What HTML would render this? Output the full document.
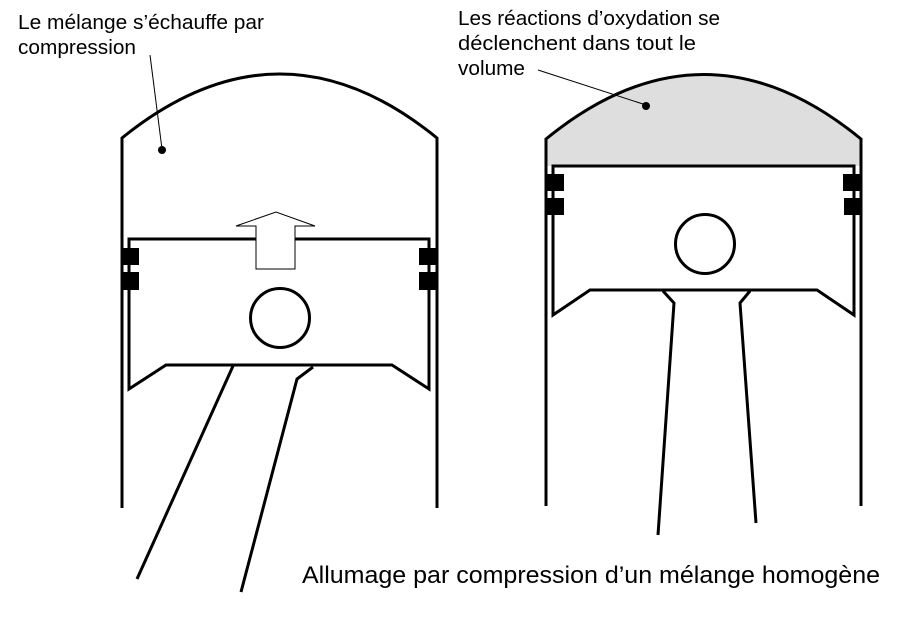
<!DOCTYPE html>
<html><head><meta charset="utf-8"><style>
html,body{margin:0;padding:0;background:#fff;}
svg{display:block;}
text{font-family:"Liberation Sans",Arial,sans-serif;fill:#000;}
</style></head><body>
<svg width="906" height="626" viewBox="0 0 906 626" xmlns="http://www.w3.org/2000/svg">
<text x="18" y="29" font-size="20" textLength="246" lengthAdjust="spacingAndGlyphs">Le mélange s’échauffe par</text>
<text x="18" y="54" font-size="20" textLength="118" lengthAdjust="spacingAndGlyphs">compression</text>
<text x="458" y="25" font-size="20" textLength="262" lengthAdjust="spacingAndGlyphs">Les réactions d’oxydation se</text>
<text x="458" y="50" font-size="20" textLength="238" lengthAdjust="spacingAndGlyphs">déclenchent dans tout le</text>
<text x="458" y="75" font-size="20" textLength="67" lengthAdjust="spacingAndGlyphs">volume</text>
<text x="302" y="583" font-size="24" textLength="578" lengthAdjust="spacingAndGlyphs">Allumage par compression d’un mélange homogène</text>

<g fill="none" stroke="#000" stroke-width="3">
<path d="M122 508 L122 138 Q280 10 437 138 L437 508"/>
<path d="M129 239 L429 239 L429 389 L392 365 L166 365 L129 389 Z"/>
<circle cx="280" cy="318" r="29.5"/>
<line x1="233" y1="366" x2="137" y2="579"/>
<polyline points="313,367 297,379 241,592"/>
</g>
<g fill="#000">
<rect x="122" y="248" width="17" height="17"/>
<rect x="122" y="272" width="17" height="18"/>
<rect x="419" y="248" width="18" height="17"/>
<rect x="419" y="272" width="18" height="18"/>
</g>
<path d="M256 269 L256 226 L236 226 L276 212 L315 226 L295 226 L295 269 Z" fill="#fff" stroke="#000" stroke-width="1"/>
<line x1="129" y1="239" x2="256" y2="239" stroke="#000" stroke-width="3"/>
<line x1="295" y1="239" x2="429" y2="239" stroke="#000" stroke-width="3"/>
<line x1="150" y1="55" x2="162" y2="149" stroke="#000" stroke-width="1"/>
<circle cx="162" cy="150" r="4" fill="#000"/>

<path d="M546 139 Q704 10 861 139 L861 166 L546 166 Z" fill="#dedede"/>
<g fill="none" stroke="#000" stroke-width="3">
<path d="M546 506 L546 139 Q704 10 861 139 L861 506"/>
<path d="M553 166 L854 166 L854 315 L817 290 L590 290 L553 315 Z" fill="#fff"/>
<circle cx="705" cy="244" r="29.5"/>
<polyline points="663,291 674,303 658,535"/>
<polyline points="750,291 740,303 756,523"/>
</g>
<g fill="#000">
<rect x="546" y="174" width="18" height="17"/>
<rect x="546" y="198" width="18" height="17"/>
<rect x="843" y="174" width="18" height="17"/>
<rect x="844" y="198" width="17" height="17"/>
</g>
<line x1="538" y1="70" x2="646" y2="105" stroke="#000" stroke-width="1"/>
<circle cx="646" cy="106" r="4" fill="#000"/>
</svg>
</body></html>
